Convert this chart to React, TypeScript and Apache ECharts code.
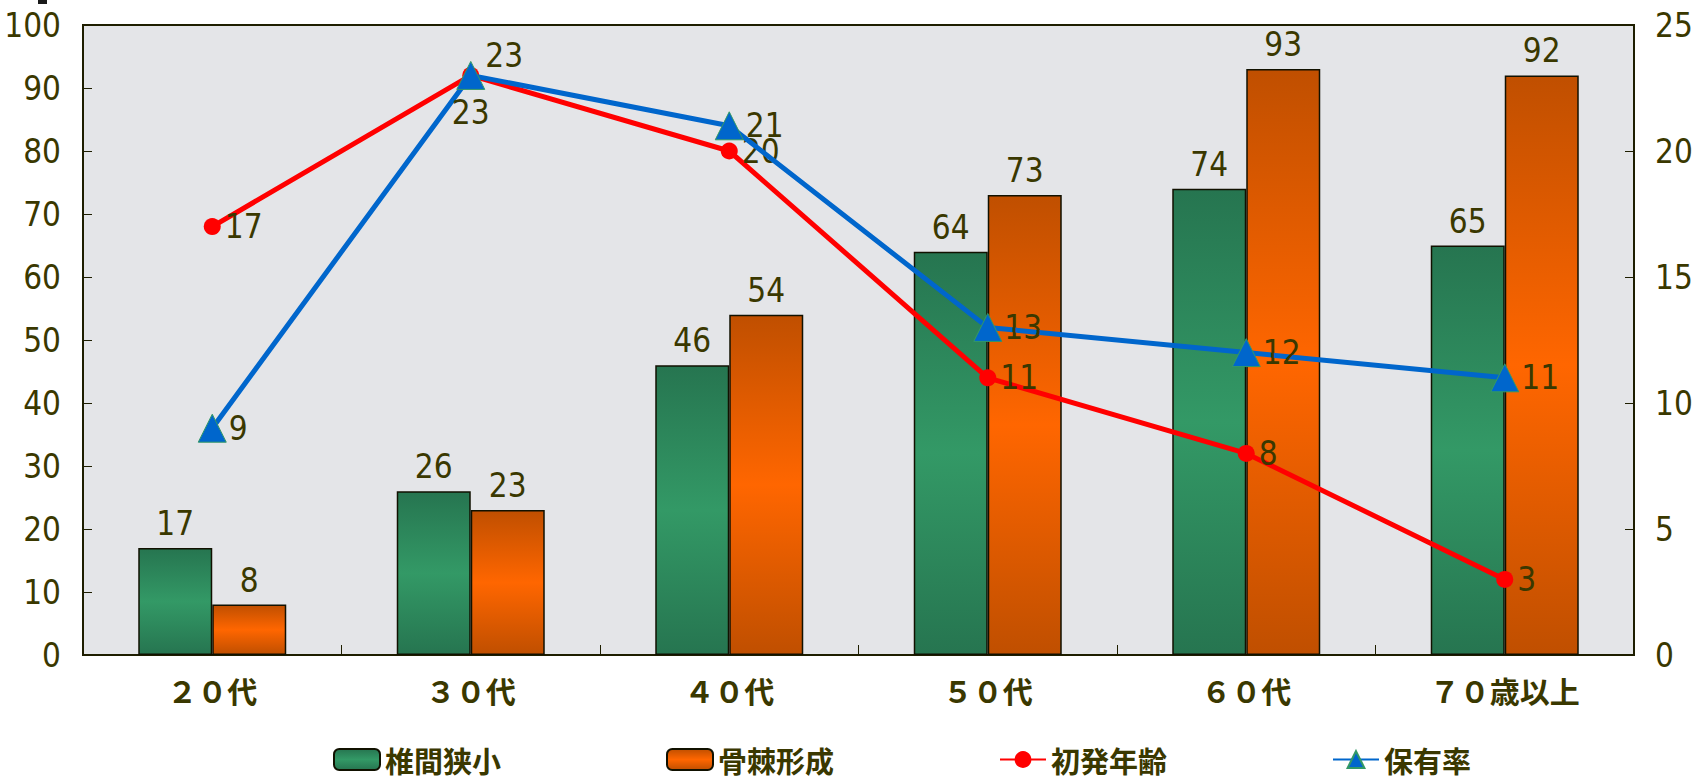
import React, { useEffect, useRef } from "react";
import * as echarts from "echarts";

const categories = ["２０代", "３０代", "４０代", "５０代", "６０代", "７０歳以上"];
const narrowing = [17, 26, 46, 64, 74, 65];
const osteophyte = [8, 23, 54, 73, 93, 92];
const onsetAge = [17, 23, 20, 11, 8, 3];
const prevalence = [9, 23, 21, 13, 12, 11];
const seriesNames = ["椎間狭小", "骨棘形成", "初発年齢", "保有率"];

const NUM_FONT = "'Liberation Sans Narrow', 'DejaVu Sans Condensed', sans-serif";
const CJK_FONT = "'Noto Sans CJK JP', 'Noto Sans CJK SC', sans-serif";
const TEXT_COLOR = "#3a3800";
const AXIS_COLOR = "#1e1e00";

const vGrad = (edge: string, mid: string) =>
  new echarts.graphic.LinearGradient(0, 0, 0, 1, [
    { offset: 0, color: edge },
    { offset: 0.5, color: mid },
    { offset: 1, color: edge },
  ]);

export default function App() {
  const ref = useRef<HTMLDivElement>(null);
  useEffect(() => {
    document.body.style.margin = "0";
    if (!ref.current) return;
    const chart = echarts.init(ref.current, undefined, { renderer: "svg" });
    const numLabel = {
      fontFamily: NUM_FONT,
      fontSize: 33,
      color: TEXT_COLOR,
    };
    chart.setOption({
      animation: false,
      backgroundColor: "#ffffff",
      grid: {
        left: 83,
        right: 65,
        top: 25,
        bottom: 124,
        show: true,
        backgroundColor: "#e4e5e8",
        borderColor: AXIS_COLOR,
        borderWidth: 2,
      },
      legend: {
        left: 328,
        top: 740,
        itemWidth: 46,
        itemHeight: 21,
        itemGap: 165,
        data: seriesNames,
        textStyle: {
          fontFamily: CJK_FONT,
          fontSize: 29,
          fontWeight: "bold",
          color: TEXT_COLOR,
        },
      },
      xAxis: {
        type: "category",
        data: categories,
        axisLine: { show: true, lineStyle: { color: AXIS_COLOR, width: 2 } },
        axisTick: { show: true, inside: true, length: 10, lineStyle: { color: AXIS_COLOR, width: 1 } },
        axisLabel: {
          margin: 20,
          fontFamily: CJK_FONT,
          fontSize: 30,
          fontWeight: "bold",
          color: TEXT_COLOR,
        },
      },
      yAxis: [
        {
          type: "value",
          min: 0,
          max: 100,
          interval: 10,
          splitLine: { show: false },
          axisLine: { show: true, lineStyle: { color: AXIS_COLOR, width: 2 } },
          axisTick: { show: true, inside: true, length: 9, lineStyle: { color: AXIS_COLOR } },
          axisLabel: { margin: 22, ...numLabel },
        },
        {
          type: "value",
          min: 0,
          max: 25,
          interval: 5,
          splitLine: { show: false },
          axisLine: { show: true, lineStyle: { color: AXIS_COLOR, width: 2 } },
          axisTick: { show: true, inside: true, length: 9, lineStyle: { color: AXIS_COLOR } },
          axisLabel: { margin: 21, ...numLabel },
        },
      ],
      series: [
        {
          name: seriesNames[0],
          type: "bar",
          data: narrowing,
          barWidth: 74,
          barGap: "0%",
          itemStyle: {
            color: vGrad("#267550", "#339966"),
            borderColor: "#111100",
            borderWidth: 1.5,
          },
          label: { show: true, position: "top", distance: 8, ...numLabel },
        },
        {
          name: seriesNames[1],
          type: "bar",
          data: osteophyte,
          barWidth: 74,
          barGap: "0%",
          itemStyle: {
            color: vGrad("#c04f00", "#ff6600"),
            borderColor: "#111100",
            borderWidth: 1.5,
          },
          label: { show: true, position: "top", distance: 8, ...numLabel },
        },
        {
          name: seriesNames[2],
          type: "line",
          yAxisIndex: 1,
          data: onsetAge.map((v, i) =>
            i === 1
              ? { value: v, label: { position: "right", offset: [2, -20] } }
              : v
          ),
          symbol: "circle",
          symbolSize: 17,
          z: 5,
          lineStyle: { color: "#ff0000", width: 5 },
          itemStyle: { color: "#ff0000" },
          label: { show: true, position: "right", distance: 4, ...numLabel },
        },
        {
          name: seriesNames[3],
          type: "line",
          yAxisIndex: 1,
          data: prevalence.map((v, i) =>
            i === 1 ? { value: v, label: { position: "bottom", distance: 6 } } : v
          ),
          symbol: "triangle",
          symbolSize: 28,
          z: 6,
          lineStyle: { color: "#0066cc", width: 5 },
          itemStyle: { color: "#0066cc", borderColor: "#339966", borderWidth: 1 },
          label: { show: true, position: "right", distance: 2, ...numLabel },
        },
      ],
      graphic: [
        {
          type: "rect",
          left: 38,
          top: 0,
          shape: { width: 9, height: 4 },
          style: { fill: "#1a1a1a" },
        },
      ],
    });
    return () => chart.dispose();
  }, []);
  return <div ref={ref} style={{ width: 1699, height: 779 }} />;
}
